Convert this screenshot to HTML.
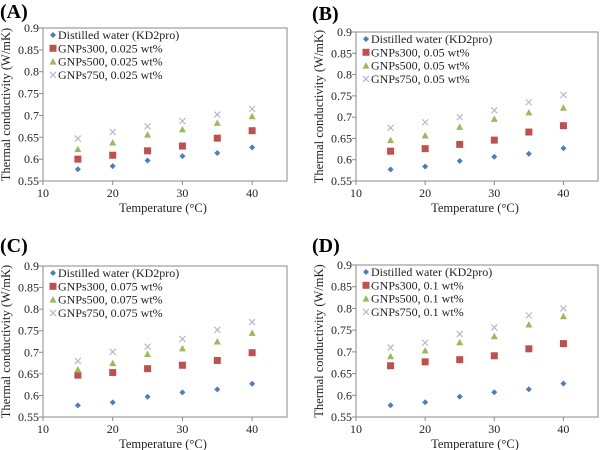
<!DOCTYPE html>
<html><head><meta charset="utf-8">
<style>
html,body{margin:0;padding:0;background:#fff;}
svg{display:block;font-family:"Liberation Serif",serif;}
</style></head>
<body>
<svg id="c" width="600" height="450" viewBox="0 0 600 450"></svg>
<script>
const temps=[15,20,25,30,35,40];
const xTicks=[10,20,30,40];
const yTicks=[0.55,0.6,0.65,0.7,0.75,0.8,0.85,0.9];
const yTickLabels=["0.55","0.6","0.65","0.7","0.75","0.8","0.85","0.9"];
const water=[0.577,0.584,0.597,0.607,0.614,0.627];
const a300=[0.600,0.609,0.619,0.630,0.648,0.665];
const a500=[0.623,0.638,0.656,0.668,0.683,0.698];
const a750=[0.647,0.662,0.675,0.687,0.702,0.715];
const b300=[0.620,0.626,0.636,0.646,0.665,0.680];
const b500=[0.646,0.657,0.677,0.696,0.711,0.722];
const b750=[0.675,0.688,0.700,0.716,0.735,0.752];
const c300=[0.647,0.653,0.662,0.670,0.681,0.699];
const c500=[0.660,0.675,0.696,0.709,0.725,0.745];
const c750=[0.680,0.701,0.713,0.731,0.752,0.770];
const d300=[0.668,0.677,0.682,0.691,0.707,0.719];
const d500=[0.690,0.703,0.722,0.736,0.763,0.782];
const d750=[0.710,0.721,0.741,0.756,0.784,0.800];
const concA="0.025 wt%",concB="0.05 wt%",concC="0.075 wt%",concD="0.1 wt%";

const NS="http://www.w3.org/2000/svg";
const svg=document.getElementById('c');
function mk(tag,attrs,parent){const e=document.createElementNS(NS,tag);for(const k in attrs)e.setAttribute(k,attrs[k]);parent.appendChild(e);return e;}

const panels=[
 {id:'a',lab:'(A)',lx:0,ly:18,L:43,T:28,R:287,B:181,s:[a300,a500,a750],conc:concA},
 {id:'b',lab:'(B)',lx:312,ly:20,L:356,T:32,R:598,B:181,s:[b300,b500,b750],conc:concB},
 {id:'c',lab:'(C)',lx:0,ly:252,L:43,T:266,R:287,B:417,s:[c300,c500,c750],conc:concC},
 {id:'d',lab:'(D)',lx:312,ly:252,L:356,T:265,R:598,B:417,s:[d300,d500,d750],conc:concD}
];
const cols={w:'#4a7ebf',s3:'#c0504d',s5:'#9bbb59',s7:'#b8b6d0'};

function marker(g,type,x,y){
 let e;
 if(type==='w'){e=mk('polygon',{points:`${x},${y-3} ${x+3},${y} ${x},${y+3} ${x-3},${y}`,fill:cols.w},g);}
 else if(type==='s3'){e=mk('rect',{x:x-3.5,y:y-3.5,width:7,height:7,fill:cols.s3},g);}
 else if(type==='s5'){e=mk('polygon',{points:`${x},${y-3.5} ${x+3.5},${y+3} ${x-3.5},${y+3}`,fill:cols.s5},g);}
 else {e=mk('path',{d:`M${x-3},${y-3}L${x+3},${y+3}M${x+3},${y-3}L${x-3},${y+3}`,stroke:cols.s7,'stroke-width':1.2,fill:'none'},g);}
 return e;
}

panels.forEach(p=>{
 const g=mk('g',{},svg);
 
 
 const xs=v=>p.L+(v-10)/35*(p.R-p.L);
 const ys=v=>p.B-(v-0.55)/0.35*(p.B-p.T);
 const t=mk('text',{x:p.lx,y:p.ly,'font-size':20,'font-weight':'bold',fill:'#000'},g);t.textContent=p.lab;
 
 
 const box=mk('rect',{x:p.L,y:p.T,width:p.R-p.L,height:p.B-p.T,fill:'none',stroke:'#8a8a8a','stroke-width':1},g);
 
 
 yTicks.forEach((v,i)=>{
  mk('line',{x1:p.L-4,x2:p.L,y1:ys(v),y2:ys(v),stroke:'#8a8a8a'},g);
  const tl=mk('text',{x:p.L-4,y:ys(v)+4,'font-size':12,'text-anchor':'end',fill:'#222'},g);tl.textContent=yTickLabels[i];
  
  
 });
 xTicks.forEach(v=>{
  mk('line',{x1:xs(v),x2:xs(v),y1:p.B,y2:p.B+4,stroke:'#8a8a8a'},g);
  const tl=mk('text',{x:xs(v),y:p.B+16,'font-size':12,'text-anchor':'middle',fill:'#222'},g);tl.textContent=v;
  
  
 });
 const xt=mk('text',{x:(p.L+p.R)/2-2,y:p.B+31,'font-size':12.5,'text-anchor':'middle',fill:'#222'},g);xt.textContent='Temperature (°C)';
 
 
 const cy=(p.T+p.B)/2;
 const yt=mk('text',{x:0,y:0,'font-size':12.5,'text-anchor':'middle',fill:'#222',transform:`translate(${p.L-33},${cy}) rotate(-90)`},g);yt.textContent='Thermal conductivity (W/mK)';
 
 
 const series=[['w',water,'Distilled water (KD2pro)'],['s3',p.s[0],'GNPs300, '+p.conc],['s5',p.s[1],'GNPs500, '+p.conc],['s7',p.s[2],'GNPs750, '+p.conc]];
 series.forEach((s,k)=>{
  s[1].forEach((v,i)=>{
   const m=marker(g,s[0],xs(temps[i]),ys(v));
   
   
  });
  const ly=p.T+7+k*13.3;
  const lm=marker(g,s[0],p.L+10,ly);
  
  
  const lt=mk('text',{x:p.L+15,y:ly+4,'font-size':12,fill:'#222'},g);lt.textContent=s[2];
  
  
 });
});
</script>
</body></html>
